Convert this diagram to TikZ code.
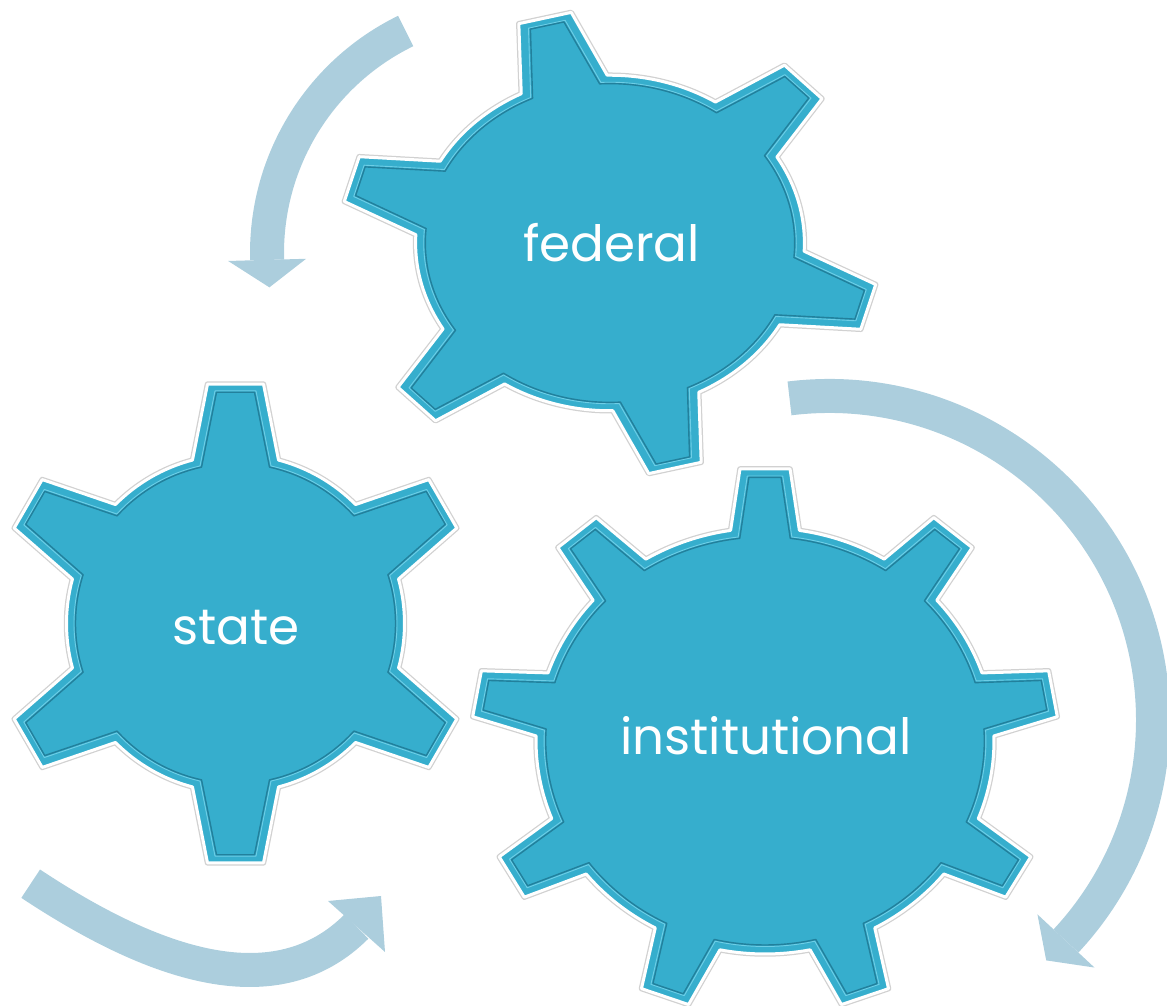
\documentclass[tikz,border=0pt]{standalone}
\usepackage{fontspec}
\setsansfont{Poppins}
\usepackage{tikz}
\usetikzlibrary{positioning}
\definecolor{gearblue}{RGB}{54,174,205}
\definecolor{geardark}{RGB}{34,128,156}
\definecolor{gearglint}{RGB}{110,206,230}
\definecolor{flowblue}{RGB}{172,206,221}
% outline of a gear: #1 teeth, #2 body radius, #3 tip radius,
% #4 half width at base, #5 half width at tip, #6 angle of first tooth
\newcommand{\gearpath}[6]{%
  ({#6-asin((#4)/(#2))}:{#2})
  \foreach \k in {1,...,#1}{
    -- ({#6+(\k-1)*360/#1-asin((#5)/(#3))}:{#3})
    -- ({#6+(\k-1)*360/#1+asin((#5)/(#3))}:{#3})
    -- ({#6+(\k-1)*360/#1+asin((#4)/(#2))}:{#2})
    arc[start angle={#6+(\k-1)*360/#1+asin((#4)/(#2))},
        end angle={#6+\k*360/#1-asin((#4)/(#2))}, radius={#2}]
  } -- cycle}
\tikzset{
    %Define style for the gears
    gearshadow/.style={
           draw=black!18,
           line width=5.5pt,
           line join=round},
    gearface/.style={
           fill=gearblue,
           draw=white,
           line width=3pt,
           line join=round},
    gearglow/.style={
           draw=gearglint,
           line width=0.9pt,
           line join=round},
    gearbevel/.style={
           draw=geardark,
           line width=1.4pt,
           line join=round},
    gearlabel/.style={
           text=white,
           anchor=base,
           font=\sffamily\fontsize{50}{56}\selectfont},
    % Define style for the turning arrows
    flow/.style={
           draw=flowblue,
           line width=34pt},
    flowhead/.style={
           fill=flowblue}
}
\begin{document}
\begin{tikzpicture}[x=1pt,y=1pt]
\useasboundingbox (0,0) rectangle (1167,1006);

 %arrows
\draw[flow] (514,753) ++(116:247) arc[start angle=116, end angle=181.6, radius=247];
\fill[flowhead, shift={(514,753)}] (181.6:208) -- (181.6:286) -- (188:247) -- cycle;

\draw[flow] (829,286) ++(97:324) arc[start angle=97, end angle=-43, radius=324];
\fill[flowhead, shift={(829,286)}] (-43:285) -- (-43:363) -- (-47.9:324) -- cycle;

\draw[flow] (30.7,122.3) .. controls (155.7,39.5) and (276.5,-0.6) .. (356.5,79.5);
\fill[flowhead] (328,105) -- (385,54) -- (381,110) -- cycle;

 %gears
\begin{scope}[shift={(610,763)}, xscale=1.08, yscale=0.932]
  \draw[gearshadow] \gearpath{6}{180}{250}{41}{25}{104};
  \filldraw[gearface] \gearpath{6}{180}{250}{41}{25}{104};
  \draw[gearglow] \gearpath{6}{172.5}{242.5}{33.5}{17.5}{104};
  \draw[gearbevel] \gearpath{6}{171}{241}{32}{16}{104};
\end{scope}

\begin{scope}[shift={(235.5,382.5)}]
  \draw[gearshadow] \gearpath{6}{169}{241}{43}{28}{90};
  \filldraw[gearface] \gearpath{6}{169}{241}{43}{28}{90};
  \draw[gearglow] \gearpath{6}{161.5}{233.5}{35.5}{20.5}{90};
  \draw[gearbevel] \gearpath{6}{160}{232}{34}{19}{90};
\end{scope}

\begin{scope}[shift={(765,265)}, xscale=1.075]
  \draw[gearshadow] \gearpath{9}{213}{273}{32}{23.3}{90};
  \filldraw[gearface] \gearpath{9}{213}{273}{32}{23.3}{90};
  \draw[gearglow] \gearpath{9}{205.5}{265.5}{25}{16.5}{90};
  \draw[gearbevel] \gearpath{9}{204}{264}{23.5}{15}{90};
\end{scope}

 %labels
\node[gearlabel] (federal) at (611.5,744) {federal};
\node[gearlabel] (state) at (236,361) {state};
\node[gearlabel] (institutional) at (766,251) {institutional};
\end{tikzpicture}
\end{document}
